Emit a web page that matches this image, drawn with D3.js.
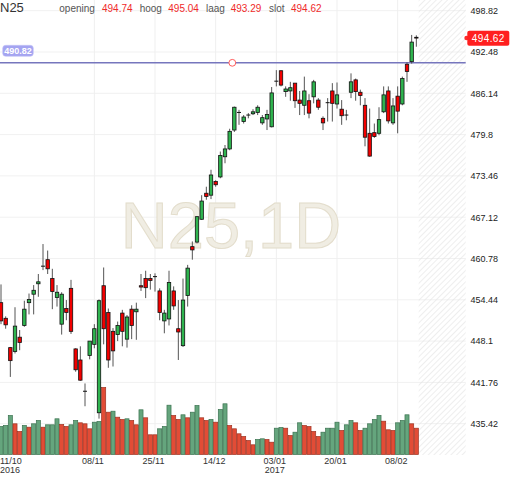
<!DOCTYPE html>
<html>
<head>
<meta charset="utf-8">
<script src="https://cdn.jsdelivr.net/npm/d3@7"></script>
<style>
body{margin:0;background:#fff}
svg{display:block;font-family:"Liberation Sans",Arial,sans-serif}
</style>
</head>
<body>
<svg id="chart" width="512" height="477"></svg>
<script>
// trading days shown (dd/mm), 11/10/2016 .. 14/02/2017
var dates = [
  "11/10","12/10","13/10","14/10","17/10","18/10","19/10","20/10","21/10","24/10","25/10","26/10","27/10","28/10","31/10",
  "01/11","02/11","03/11","04/11","07/11","08/11","09/11","10/11","11/11","14/11","15/11","16/11","17/11","18/11","21/11","22/11","23/11","24/11","25/11","28/11","29/11","30/11",
  "01/12","02/12","05/12","06/12","07/12","08/12","09/12","12/12","13/12","14/12","15/12","16/12","19/12","20/12","21/12","22/12","23/12","27/12","28/12","29/12","30/12",
  "02/01","03/01","04/01","05/01","06/01","09/01","10/01","11/01","12/01","13/01","16/01","17/01","18/01","19/01","20/01","23/01","24/01","25/01","26/01","27/01","30/01","31/01",
  "01/02","02/02","03/02","06/02","07/02","08/02","09/02","10/02","13/02","14/02"
];

var opens = [454.0,451.6,447.1,446.5,448.7,450.5,454.0,455.3,456.9,459.6,
  460.6,457.7,454.8,450.7,453.1,456.2,446.9,445.2,440.4,445.9,
  447.6,437.1,456.6,452.5,449.6,449.1,452.4,448.4,453.0,452.6,
  456.6,457.7,457.7,458.0,455.8,451.2,451.5,455.8,450.0,447.4,
  455.1,462.6,463.3,466.8,470.8,470.5,472.6,473.3,476.4,477.6,
  480.5,483.2,481.8,482.8,483.0,483.2,481.6,482.2,481.0,488.0,
  489.6,486.4,486.5,487.7,485.1,484.3,485.0,485.6,485.1,482.3,
  484.7,486.5,484.5,483.7,482.8,486.3,488.2,486.3,484.3,480.0,
  480.1,480.0,483.3,486.5,481.6,485.7,484.5,490.6,491.0,494.74];
var highs = [456.8,451.9,447.2,453.3,449.8,454.3,455.4,456.7,458.4,463.0,
  462.0,459.2,456.7,455.6,454.4,457.5,447.0,447.3,441.6,448.1,
  450.7,454.5,459.4,453.1,450.1,451.1,452.9,452.1,453.6,454.0,
  458.4,458.9,458.4,458.5,456.2,452.9,458.9,456.5,454.4,457.7,
  459.8,463.4,467.3,470.5,471.8,474.4,472.8,477.2,478.2,480.7,
  484.1,483.6,482.8,483.1,483.7,484.3,482.8,483.6,487.1,489.7,
  489.7,487.2,487.9,487.7,486.5,488.7,486.0,488.2,485.4,482.6,
  485.4,487.7,487.8,485.1,483.6,489.2,488.4,486.7,485.4,483.8,
  481.5,484.0,487.2,487.2,485.4,487.2,488.7,490.9,495.1,495.04];
var lows = [450.7,450.0,442.6,446.2,446.7,450.3,452.2,452.2,454.9,459.0,
  458.4,453.0,453.4,449.1,451.3,449.2,443.4,442.0,438.1,445.3,
  447.0,436.2,447.6,444.0,444.2,448.1,447.3,447.1,448.4,448.3,
  455.8,454.7,456.0,455.7,451.3,449.3,450.5,452.9,445.2,447.2,
  453.4,460.6,463.1,466.7,469.8,469.9,471.8,473.1,475.4,477.4,
  480.2,481.3,481.5,482.3,482.8,482.8,481.3,480.5,480.9,487.2,
  487.2,485.6,485.0,483.9,482.8,482.8,482.3,484.6,483.6,480.5,
  481.8,481.8,483.8,481.3,482.0,485.4,485.0,484.3,478.0,476.4,
  479.3,479.7,483.1,481.5,481.3,480.0,484.3,487.9,490.7,493.29];
var closes = [451.2,450.6,445.1,450.4,447.9,453.0,454.5,455.9,457.2,459.6,
  459.2,455.7,455.6,455.3,452.5,449.6,443.7,442.1,440.4,448.1,
  450.0,454.3,450.0,445.2,446.6,450.5,449.6,451.8,450.5,453.0,
  456.4,456.3,457.4,458.0,452.5,452.4,457.1,453.5,449.5,454.4,
  459.3,462.1,467.2,469.6,470.3,473.6,472.1,476.6,477.6,480.3,
  484.0,483.2,482.5,482.8,483.3,484.0,482.4,482.9,486.2,488.0,
  487.4,486.8,487.0,485.0,484.6,486.5,483.1,487.9,484.0,481.6,
  484.7,484.6,485.9,482.7,482.8,487.9,486.4,485.8,479.4,476.5,
  479.5,482.1,485.9,481.9,484.2,483.4,488.4,489.5,494.0,494.62];

// volume (relative units) and its colour flag as drawn (1 = green, 0 = red)
var volumes = [28,29,39,30.7,23,29,27.3,30.7,34,27.3,
  29.7,29.7,35.7,30,28,29.7,34,31.7,30.7,25.7,
  32.3,33,67,42.3,43.3,37.3,35,35.7,34,29.7,
  44.7,36.7,19.7,19.7,25.7,28,49.3,39,35,39.7,
  36.7,42.3,49,36.7,34,35,32.3,45,50.7,29,
  25.7,20.7,18,14,9.7,15,15.7,15,12.3,26.3,
  27,26.3,19,22.3,31.7,29,28,23,18,22.3,
  26.3,26.3,32.3,24,29.7,34,31.7,24,26.3,30.7,
  35,39,33.3,24.7,24,31.7,34,39.7,30.7,26.3];
var volUp = [1,1,1,0,0,1,0,1,1,0,
  1,1,1,0,0,1,1,0,0,0,
  1,1,0,0,1,0,0,1,0,0,
  1,0,0,0,1,1,1,0,0,1,
  0,1,1,0,0,1,0,1,1,0,
  0,0,0,0,0,1,1,0,0,1,
  1,0,0,1,1,0,0,0,0,1,
  1,1,1,0,1,1,0,0,1,1,
  1,1,0,0,0,1,1,1,0,0];

var priceTicks = [498.82,492.48,486.14,479.8,473.46,467.12,460.78,454.44,448.1,441.76,435.42];
var tickDates = ["11/10","08/11","25/11","14/12","03/01","20/01","08/02"];
var yearDates = ["11/10","03/01"];
var yearLabels = ["2016","2017"];
var headerLabels = ["opening","hoog","laag","slot"];
var lineLevel = 490.82;

var plot = {right:465.7, bottom:455, futureStart:418.67};

var svg = d3.select("#chart");

var xScale = d3.scaleBand().domain(dates).range([-1.33, plot.futureStart]);
var yScale = d3.scaleLinear().domain([435.42, 498.82]).range([423.7, 10.7]);
var vScale = d3.scaleLinear().domain([0, 100]).range([454.5, 354.5]);
var cx = function(d){ return xScale(d) + xScale.bandwidth()/2; };

var candles = dates.map(function(d, i){
  return {date:d, o:opens[i], h:highs[i], l:lows[i], c:closes[i], v:volumes[i], up:volUp[i]};
});

// hatch pattern for the empty future area
var defs = svg.append("defs");
defs.append("pattern")
  .attr("id","hatch")
  .attr("width",4).attr("height",4)
  .attr("patternUnits","userSpaceOnUse")
  .attr("patternTransform","rotate(45)")
  .append("line")
  .attr("x1",0).attr("y1",0).attr("x2",0).attr("y2",4)
  .attr("stroke","#e3e3e3").attr("stroke-width",1.2);

// grid
var grid = svg.append("g");
grid.selectAll(".hg").data(priceTicks).enter().append("line")
  .attr("x1",0).attr("x2",plot.right)
  .attr("y1",function(d){return yScale(d);}).attr("y2",function(d){return yScale(d);})
  .attr("stroke","#f1f1f1");
grid.selectAll(".vg").data(tickDates.slice(1)).enter().append("line")
  .attr("x1",cx).attr("x2",cx)
  .attr("y1",0).attr("y2",plot.bottom)
  .attr("stroke","#efefef");

svg.append("rect")
  .attr("x",plot.futureStart).attr("y",0)
  .attr("width",plot.right-plot.futureStart).attr("height",plot.bottom)
  .attr("fill","url(#hatch)");

// watermark
svg.append("text")
  .text("N25,1D")
  .attr("x",231).attr("y",248)
  .attr("text-anchor","middle")
  .attr("font-size",65)
  .attr("fill","#f0ede3")
  .attr("stroke","#e3ddcc")
  .attr("stroke-width",1);

// volume
svg.append("g").selectAll("rect").data(candles).enter().append("rect")
  .attr("x",function(d){return xScale(d.date)+0.3;})
  .attr("width",xScale.bandwidth()-0.6)
  .attr("y",function(d){return vScale(d.v);})
  .attr("height",function(d){return vScale(0)-vScale(d.v);})
  .attr("fill",function(d){return d.up ? "#65a57d" : "#e24c36";})
  .attr("stroke",function(d){return d.up ? "#3b7250" : "#9e3322";})
  .attr("stroke-width",0.7);

// horizontal level line
svg.append("line")
  .attr("x1",0).attr("x2",plot.right)
  .attr("y1",yScale(lineLevel)).attr("y2",yScale(lineLevel))
  .attr("stroke","#7676bd").attr("stroke-width",1.4);
svg.append("circle")
  .attr("cx",232.3).attr("cy",yScale(lineLevel)).attr("r",3.4)
  .attr("fill","#fff").attr("stroke","#ff5b5b").attr("stroke-width",1);
svg.append("rect")
  .attr("x",2.7).attr("y",yScale(lineLevel)-17.5)
  .attr("width",30.6).attr("height",11).attr("rx",3)
  .attr("fill","#a4a4f1").attr("stroke","#c4c4f8").attr("stroke-width",0.6);
svg.append("text")
  .text(d3.format(".2f")(lineLevel))
  .attr("x",18).attr("y",yScale(lineLevel)-8.8)
  .attr("text-anchor","middle")
  .attr("font-size",9).attr("font-weight","bold")
  .attr("fill","#fff");

// candles
var cg = svg.append("g");
cg.selectAll(".wick").data(candles).enter().append("line")
  .attr("x1",function(d){return cx(d.date);}).attr("x2",function(d){return cx(d.date);})
  .attr("y1",function(d){return yScale(d.h);}).attr("y2",function(d){return yScale(d.l);})
  .attr("stroke","#555").attr("stroke-width",1);
cg.selectAll(".body").data(candles.filter(function(d){return d.o !== d.c;})).enter().append("rect")
  .attr("x",function(d){return cx(d.date)-1.7;})
  .attr("width",3.4)
  .attr("y",function(d){return yScale(Math.max(d.o,d.c));})
  .attr("height",function(d){return Math.max(0.8, Math.abs(yScale(d.o)-yScale(d.c)));})
  .attr("fill",function(d){return d.c > d.o ? "#2fb44f" : "#f20000";})
  .attr("stroke","#111").attr("stroke-width",0.8);
cg.selectAll(".doji").data(candles.filter(function(d){return d.o === d.c;})).enter().append("line")
  .attr("x1",function(d){return cx(d.date)-2;}).attr("x2",function(d){return cx(d.date)+2;})
  .attr("y1",function(d){return yScale(d.c);}).attr("y2",function(d){return yScale(d.c);})
  .attr("stroke","#111").attr("stroke-width",1);

// right price axis
var yAxis = d3.axisRight(yScale).tickValues(priceTicks).tickSize(0).tickPadding(0)
  .tickFormat(function(d){return String(d);});
var ax = svg.append("g").attr("transform","translate(470.5,0)").call(yAxis);
ax.select(".domain").remove();
ax.selectAll("text").attr("font-size",9).attr("fill","#222")
  .attr("font-family","'Liberation Sans',Arial,sans-serif");

// last price tag
var last = candles[candles.length-1];
svg.append("circle").attr("cx",466.5).attr("cy",yScale(last.c)).attr("r",2.2).attr("fill","#ff2a2a");
svg.append("rect")
  .attr("x",467.3).attr("y",yScale(last.c)-7.3)
  .attr("width",42).attr("height",15).attr("rx",2)
  .attr("fill","#ff1f1f");
svg.append("text")
  .text(d3.format(".2f")(last.c))
  .attr("x",488.3).attr("y",yScale(last.c)+3.6)
  .attr("text-anchor","middle")
  .attr("font-size",10).attr("letter-spacing",0.4)
  .attr("fill","#fff");

// header
svg.append("text").text("N25")
  .attr("x",0).attr("y",11.7)
  .attr("font-size",13).attr("fill","#333");
var headerValues = [last.o, last.h, last.l, last.c];
var labelX = [59.3, 139.7, 206, 269];
var valueX = [102, 168.3, 230.7, 291];
headerLabels.forEach(function(lab, i){
  svg.append("text").text(lab)
    .attr("x",labelX[i]).attr("y",11.7)
    .attr("font-size",10).attr("fill","#555");
  svg.append("text").text(d3.format(".2f")(headerValues[i]))
    .attr("x",valueX[i]).attr("y",11.7)
    .attr("font-size",10).attr("fill","#f02a2a");
});

// date labels
var dl = svg.append("g").attr("font-size",9).attr("fill","#333");
dl.selectAll(".dt").data(tickDates).enter().append("text")
  .text(function(d){return d;})
  .attr("x",function(d,i){return i === 0 ? 0 : cx(d)-1.5;})
  .attr("y",464)
  .attr("text-anchor",function(d,i){return i === 0 ? "start" : "middle";});
dl.selectAll(".yr").data(yearDates).enter().append("text")
  .text(function(d,i){return yearLabels[i];})
  .attr("x",function(d,i){return i === 0 ? 0 : cx(d)-1.5;})
  .attr("y",472.7)
  .attr("text-anchor",function(d,i){return i === 0 ? "start" : "middle";});
</script>
</body>
</html>
